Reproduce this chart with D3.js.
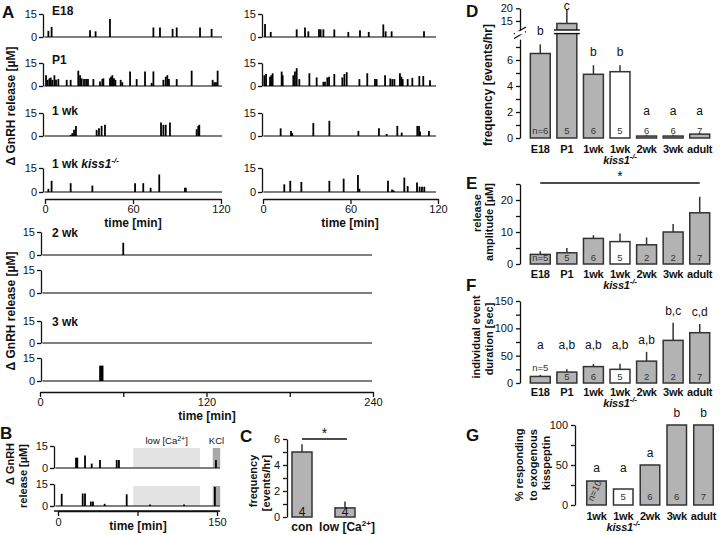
<!DOCTYPE html>
<html><head><meta charset="utf-8">
<script src="https://cdn.jsdelivr.net/npm/d3@7"></script>
<style>
body{margin:0;background:#fff}
svg{display:block}
text{font-family:"Liberation Sans",Arial,sans-serif;fill:#111}
.tk text{font-size:11px}
.gl{font-size:11px;font-weight:bold;letter-spacing:-0.2px}
.tl{font-size:12px;font-weight:bold}
.pl{font-size:17px;font-weight:bold}
.yl{font-size:12px;font-weight:bold}
.ys{font-size:11px;font-weight:bold}
.lt{font-size:12px}
.nl{font-size:9.5px;fill:#333}
</style>
</head><body>
<svg id="c" width="720" height="535"></svg>
<script>
// ---------- DATA ----------
// trace events: [time (min), amplitude (µM)]
const e18Left = [[2.3,4],[4.5,6.6],[30.7,4.4],[34.5,3.7],[44.3,11.7],[73.9,6.2],[78.4,6.2],[87,5.3],[89.8,6.2],[105.7,6.2],[113.6,5.3]];
const e18Right = [[1.4,8.4],[5.3,3.3],[23.1,5],[28.8,6.2],[31.1,3.7],[38.4,5],[39.5,5],[41.4,5],[48.9,4.9],[58.5,3.3],[66.5,4.4],[72.5,3.3],[82.5,8.2],[84.1,3.7],[88.2,3.7],[110.4,3.7]];
const p1Left = [[0.7,7],[1.8,4],[3,5],[3.9,5.5],[5,4],[6.4,7],[7.5,4],[9.1,4.5],[14.8,4],[17.5,4],[22.7,10],[23.9,7],[25,5],[26.6,4.5],[28,4.5],[29.3,4.5],[33,4.5],[37.5,3],[39.1,4.5],[39.8,5],[44.3,5],[45,6],[45.9,7],[47,5],[48,4],[51.6,4],[52.7,2.5],[58,9.5],[62.5,4.5],[68.2,9.5],[72.7,2],[73.9,9.5],[80.7,4],[82.3,6],[83.4,7],[84.5,4.5],[89.8,4.5],[100,10],[114.3,4],[115.5,2.5],[116.6,2.5],[117.7,10]];
const p1Right = [[0.9,7],[2.1,7.8],[4.8,6],[5.7,7],[6.6,8.3],[12.8,9.4],[13.5,7],[20.8,7],[21.9,9.4],[23.1,11.6],[24.9,4.5],[31.8,8.3],[36.8,5.6],[41.4,2.7],[42.5,2.7],[44.1,5.6],[45.3,6],[48.9,7.8],[54.4,5.6],[55.8,7.8],[57.4,9],[66.1,4.5],[71.5,8.3],[76.8,4.5],[77.9,4.5],[83.7,7],[87.3,4.9],[88.7,4.5],[90.1,4.5],[93.9,8.3],[94.9,6],[95.8,4.5],[99.2,4.5],[102.4,5.3],[107.2,6.5],[109.9,6.5],[114.5,3.8]];
const wk1Left = [[17.5,0.7],[18.6,1.8],[19.8,4],[21.1,6.6],[35.2,4],[36.8,5],[38.6,6.6],[40.9,7.3],[79.1,8.8],[80.7,7.3],[82.3,7.3],[85.2,8.8],[103.4,4.4],[104.5,6.6],[105.2,7.3]];
const wk1Right = [[12.1,5],[19.2,3.3],[20.1,1.8],[34.5,8.4],[45.5,9.9],[65.4,3.3],[79.5,5],[84.8,1.3],[92.1,6.6],[95.1,2.2],[105.8,6.6],[107,6.6],[107.7,2.9],[113.8,3.3]];
const kissLeft = [[2.3,2],[4.5,7],[17.5,5.5],[32.3,4],[61.4,5.5],[67,5.5],[72,2.6],[77.9,11],[95.4,2.6],[96,2.6]];
const kissRight = [[14.6,4.8],[18.7,7],[26.3,6.3],[45.5,7],[55.3,8.3],[65.1,10.6],[66.1,2],[85.7,7],[88.5,1.5],[89.6,1],[96.9,9],[99.2,3.7],[105.6,6],[107.4,3.3],[109,3.3],[110.6,3.3]];
const wk2a = [[60,8]];
const wk2b = [];
const wk3a = [];
const wk3b = [[43.3,10],[44.2,10],[45.1,10]];
const bCon = [[17,7],[18.2,7],[25.5,8.5],[31.8,3],[39.6,5.5],[55.4,5.5],[57.5,5.5],[149,5.5]];
const bLowCa = [[3.5,8.3],[23.3,8.5],[25.5,8.5],[31,3],[33,3],[44,1.5],[64.8,8],[86.8,1],[118.9,1],[148,13]];
const lowCaWindow = [71, 134];
const kclWindow = [146, 153];

// panel C
const cCats = ["con","low [Ca2+]"];
const cMean = [5, 0.7];
const cErrTop = [5.6, 1.2];
const cN = ["4","4"];

// panels D-F
const groups = ["E18","P1","1wk","1wk kiss1-/-","2wk","3wk","adult"];
const freqMean = [6.5,14,4.9,5.1,0.15,0.15,0.3];
const freqErrTop = [7.2,19.6,5.6,5.6,0.25,0.25,0.4];
const freqLetters = ["b","c","b","b","a","a","a"];
const freqN = ["n=6","5","6","5","6","6","7"];
const ampMean = [3,3.5,8,7,6,10,16];
const ampErrTop = [4,5,9,9.5,8.3,12.5,21];
const ampN = ["n=5","5","6","5","2","2","7"];
const durMean = [12,20,30,25,40,78,92];
const durErrTop = [15,25,35,35,57,110,108];
const durLetters = ["a","a,b","a,b","a,b","a,b","b,c","c,d"];
const durN = ["n=5","5","6","5","2","2","7"];
// panel G
const gGroups = ["1wk","1wk kiss1-/-","2wk","3wk","adult"];
const gPct = [30,20,50,100,100];
const gLetters = ["a","a","a","b","b"];
const gN = ["n=10","5","6","6","7"];

// ---------- DRAW ----------
const svg = d3.select("#c");
const BAR = "#b3b3b3", EDGE = "#333";

function text(x, y, s, cls, anchor="start", rot=0) {
  const t = svg.append("text").attr("class", cls).attr("text-anchor", anchor);
  if (rot) t.attr("transform", `translate(${x},${y}) rotate(${rot})`);
  else t.attr("x", x).attr("y", y);
  return t.text(s);
}
function styleAxis(g) {
  g.attr("class","tk");
  g.selectAll("path,line").attr("stroke","#111").attr("stroke-width",1.3);
  g.selectAll("text").attr("fill","#222");
}
function trace(events, xs, yBase, yTop, bx, xEnd) {
  const y = d3.scaleLinear().domain([0,15]).range([yBase, yTop]);
  svg.append("line").attr("x1", bx + 1.5).attr("x2", xEnd ?? xs.range()[1])
    .attr("y1", yBase).attr("y2", yBase).attr("stroke","#555").attr("stroke-width",1.3);
  svg.append("g").selectAll("line").data(events).join("line")
    .attr("x1", d => xs(d[0])).attr("x2", d => xs(d[0]))
    .attr("y1", yBase).attr("y2", d => y(d[1]))
    .attr("stroke","#000").attr("stroke-width",1.8);
  svg.append("g").attr("transform", `translate(${bx},0)`)
    .call(d3.axisLeft(y).tickValues([0,15]).tickSize(4).tickSizeOuter(0).tickPadding(2))
    .call(styleAxis);
  return y;
}
function kissLabel(x, y, cls, anchor, prefix) {
  const t = svg.append("text").attr("class", cls).attr("x", x).attr("y", y).attr("text-anchor", anchor);
  if (prefix) t.append("tspan").text(prefix);
  t.append("tspan").style("font-style","italic").text("kiss1");
  t.append("tspan").attr("dy",-5).style("font-size","8px").style("font-style","italic").text("-/-");
  return t;
}
function groupLabels(xs, cats, yb) {
  cats.forEach(c => {
    const cx = xs(c) + xs.bandwidth()/2;
    if (c.includes("kiss")) {
      text(cx, yb, "1wk", "gl", "middle");
      kissLabel(cx, yb + 11, "gl", "middle");
    } else text(cx, yb, c, "gl", "middle");
  });
}

// ===== Panel A =====
text(2, 18, "A", "pl");
const xL = d3.scaleLinear().domain([0,120]).range([45,221]);
const xR = d3.scaleLinear().domain([0,120]).range([263,438]);
const topRows = [[37,14],[86,63],[136,113],[192,168]];
const leftSets = [e18Left, p1Left, wk1Left, kissLeft];
const rightSets = [e18Right, p1Right, wk1Right, kissRight];
topRows.forEach((r,i) => {
  trace(leftSets[i], xL, r[0], r[1], 43, 222);
  trace(rightSets[i], xR, r[0], r[1], 262, 436);
});
text(52, 15, "E18", "tl");
text(52, 64, "P1", "tl");
text(52, 115, "1 wk", "tl");
kissLabel(52, 168, "tl", "start", "1 wk ");
[[xL,133],[xR,350]].forEach(([xs,cx]) => {
  svg.append("g").attr("transform","translate(0,199)")
    .call(d3.axisBottom(xs).tickValues([0,60,120]).tickSize(5).tickSizeOuter(0).tickPadding(1))
    .call(styleAxis);
  text(cx, 227, "time [min]", "tl", "middle");
});
text(15, 106, "Δ GnRH release [µM]", "yl", "middle", -90);

const xB2 = d3.scaleLinear().domain([0,240]).range([40,373]);
const botRows = [[255,232],[293,270],[343,321],[381,358]];
[wk2a, wk2b, wk3a, wk3b].forEach((s,i) => trace(s, xB2, botRows[i][0], botRows[i][1], 41, 372));
text(52, 237, "2 wk", "tl");
text(52, 326, "3 wk", "tl");
svg.append("g").attr("transform","translate(0,392)")
  .call(d3.axisBottom(xB2).tickValues([0,60,120,180,240]).tickSize(5).tickSizeOuter(0).tickPadding(1)
    .tickFormat(d => d % 120 === 0 ? d : ""))
  .call(styleAxis);
text(207, 420, "time [min]", "tl", "middle");
text(15, 311, "Δ GnRH release [µM]", "yl", "middle", -90);

// ===== Panel B =====
text(0, 439, "B", "pl");
const xsB = d3.scaleLinear().domain([0,150]).range([58,217]);
const bRows = [[468,446],[506,484]];
bRows.forEach(r => {
  svg.append("rect").attr("x", xsB(lowCaWindow[0])).attr("width", xsB(lowCaWindow[1]) - xsB(lowCaWindow[0]))
    .attr("y", r[1] + 2).attr("height", r[0] - r[1] - 2).attr("fill","#e3e3e3");
  svg.append("rect").attr("x", xsB(kclWindow[0])).attr("width", xsB(kclWindow[1]) - xsB(kclWindow[0]))
    .attr("y", r[1] + 2).attr("height", r[0] - r[1] - 2).attr("fill","#a9a9a9");
});
trace(bCon, xsB, bRows[0][0], bRows[0][1], 54, 220);
trace(bLowCa, xsB, bRows[1][0], bRows[1][1], 54, 220);
svg.append("g").attr("transform","translate(0,511)")
  .call(d3.axisBottom(xsB).tickValues([0,75,150]).tickSize(5).tickSizeOuter(0).tickPadding(2)
    .tickFormat(d => d === 75 ? "" : d))
  .call(styleAxis);
svg.append("line").attr("x1", xsB(0)-4).attr("x2", xsB(153)).attr("y1",511).attr("y2",511).attr("stroke","#111").attr("stroke-width",1.3);
text(138, 530, "time [min]", "tl", "middle");
{
  const t = svg.append("text").attr("x", (xsB(lowCaWindow[0]) + xsB(lowCaWindow[1]))/2).attr("y", 444)
    .attr("text-anchor","middle").style("font-size","9.5px");
  t.append("tspan").text("low [Ca");
  t.append("tspan").attr("dy",-3).style("font-size","7px").text("2+");
  t.append("tspan").attr("dy",3).text("]");
  text((xsB(kclWindow[0]) + xsB(kclWindow[1]))/2, 444, "KCl", "", "middle").style("font-size","9.5px");
}
text(14, 464, "Δ GnRH", "ys", "middle", -90);
text(27, 476, "release [µM]", "ys", "middle", -90);

// ===== Panel C =====
text(240, 442, "C", "pl");
const yC = d3.scaleLinear().domain([0,6]).range([517,439]);
const xC = d3.scalePoint().domain(cCats).range([302, 345]);
svg.append("g").attr("transform","translate(287,0)")
  .call(d3.axisLeft(yC).tickValues([0,1,2,3,4,5,6]).tickSize(4).tickSizeOuter(0).tickPadding(3)
    .tickFormat(d => d % 2 === 0 ? d : ""))
  .call(styleAxis);
const bwC = 20;
cCats.forEach((c,i) => {
  const cx = xC(c);
  svg.append("line").attr("x1",cx).attr("x2",cx).attr("y1",yC(cMean[i])).attr("y2",yC(cErrTop[i])).attr("stroke",EDGE).attr("stroke-width",1.5);
  svg.append("rect").attr("x",cx - bwC/2).attr("width",bwC).attr("y",yC(cMean[i])).attr("height",yC(0)-yC(cMean[i]))
    .attr("fill",BAR).attr("stroke",EDGE).attr("stroke-width",1.5);
  svg.append("text").attr("x",cx).attr("y",516).attr("text-anchor","middle").style("font-size","12px").attr("fill","#333").text(cN[i]);
});
{
  const c0 = xC(cCats[0]), c1 = xC(cCats[1]);
  text(c0, 531, "con", "tl", "middle");
  const t = svg.append("text").attr("class","tl").attr("x", c1+2).attr("y",531).attr("text-anchor","middle");
  t.append("tspan").text("low [Ca");
  t.append("tspan").attr("dy",-5).style("font-size","8px").text("2+");
  t.append("tspan").attr("dy",5).text("]");
  svg.append("line").attr("x1",c0).attr("x2",c1+2).attr("y1",439).attr("y2",439).attr("stroke","#111").attr("stroke-width",1.3);
  text((c0+c1)/2 + 1, 438, "*", "", "middle").style("font-size","14px");
}
text(257, 481, "frequency", "ys", "middle", -90);
text(270, 483, "[events/hr]", "ys", "middle", -90);

// ===== Bar chart helper (D, E, F) =====
const xG = d3.scaleBand().domain(groups).range([527,713]).paddingInner(0.25).paddingOuter(0.125);
function bars(y, means, errTop) {
  const bw = xG.bandwidth();
  groups.forEach((g,i) => {
    const cx = xG(g) + bw/2;
    svg.append("line").attr("x1",cx).attr("x2",cx).attr("y1",y(means[i])).attr("y2",y(errTop[i])).attr("stroke",EDGE).attr("stroke-width",1.5);
    svg.append("rect").attr("x",xG(g)).attr("width",bw).attr("y",y(means[i])).attr("height",Math.max(1.5, y(0)-y(means[i])))
      .attr("fill", g.includes("kiss") ? "#fff" : BAR).attr("stroke",EDGE).attr("stroke-width",1.5);
  });
}
function nLabels(labels, ys) {
  groups.forEach((g,i) => {
    svg.append("text").attr("class","nl").attr("x", xG(g) + xG.bandwidth()/2).attr("y", ys[i]).attr("text-anchor","middle").text(labels[i]);
  });
}

// ===== Panel D =====
text(466, 17, "D", "pl");
const yLow = d3.scaleLinear().domain([0,7.6]).range([138,39.2]);
const yUp = d3.scaleLinear().domain([11.5,20]).range([29.8,8.3]);
const yD = v => v <= 7.6 ? yLow(v) : yUp(v);
svg.append("g").attr("transform","translate(520,0)")
  .call(d3.axisLeft(yLow).tickValues([0,1,2,3,4,5,6,7]).tickSize(4).tickSizeOuter(0).tickPadding(3).tickFormat(d => d % 2 === 0 ? d : ""))
  .call(styleAxis);
svg.append("g").attr("transform","translate(520,0)")
  .call(d3.axisLeft(yUp).tickValues([15,20]).tickSize(4).tickSizeOuter(0).tickPadding(3))
  .call(styleAxis);
[[0,0],[0,4.5]].forEach(([dx,dy]) => {
  svg.append("line").attr("x1",514+dx).attr("x2",526+dx).attr("y1",34+dy).attr("y2",27+dy).attr("stroke","#111").attr("stroke-width",1.3);
});
svg.append("rect").attr("x",515).attr("width",10).attr("y",31.2).attr("height",3.2).attr("fill","#fff");
bars(yD, freqMean, freqErrTop);
{ // break across P1 bar
  const x0 = xG("P1");
  svg.append("rect").attr("x",x0-3).attr("width",xG.bandwidth()+6).attr("y",30).attr("height",3.6).attr("fill","#fff");
  [30,33.6].forEach(yy => svg.append("line").attr("x1",x0-3).attr("x2",x0+xG.bandwidth()+3).attr("y1",yy).attr("y2",yy).attr("stroke","#111").attr("stroke-width",1.4));
}
groups.forEach((g,i) => {
  const yb = Math.max(9.5, Math.min(yD(freqErrTop[i]) - 9, 115));
  text(xG(g) + xG.bandwidth()/2, yb, freqLetters[i], "lt", "middle");
});
nLabels(freqN, groups.map(() => 134));
groupLabels(xG, groups, 153);
text(492, 85, "frequency [events/hr]", "yl", "middle", -90);

// ===== Panel E =====
text(466, 189, "E", "pl");
const yE = d3.scaleLinear().domain([0,25]).range([264,184]);
svg.append("g").attr("transform","translate(520,0)")
  .call(d3.axisLeft(yE).tickValues([0,5,10,15,20,25]).tickSize(4).tickSizeOuter(0).tickPadding(3).tickFormat(d => d % 10 === 0 ? d : ""))
  .call(styleAxis);
bars(yE, ampMean, ampErrTop);
nLabels(ampN, groups.map(() => 261));
groupLabels(xG, groups, 278);
{
  const a = xG("E18") + xG.bandwidth()/2, b = xG("adult") + xG.bandwidth()/2;
  svg.append("line").attr("x1",a).attr("x2",b).attr("y1",183).attr("y2",183).attr("stroke","#111").attr("stroke-width",1.3);
  text((a+b)/2, 181, "*", "", "middle").style("font-size","14px");
}
text(481, 213, "release", "ys", "middle", -90);
text(493, 222, "amplitude [µM]", "ys", "middle", -90);

// ===== Panel F =====
text(466, 291, "F", "pl");
const yF = d3.scaleLinear().domain([0,150]).range([383,301]);
svg.append("g").attr("transform","translate(520,0)")
  .call(d3.axisLeft(yF).tickValues([0,25,50,75,100,125,150]).tickSize(4).tickSizeOuter(0).tickPadding(3).tickFormat(d => d % 50 === 0 ? d : ""))
  .call(styleAxis);
bars(yF, durMean, durErrTop);
groups.forEach((g,i) => {
  const yb = Math.min(yF(durErrTop[i]) - 8, 349);
  text(xG(g) + xG.bandwidth()/2, yb, durLetters[i], "lt", "middle");
});
nLabels(durN, groups.map((g,i) => i === 0 ? yF(durErrTop[0]) - 4 : 380));
groupLabels(xG, groups, 396);
text(480, 337, "individual event", "ys", "middle", -90);
text(493, 339, "duration [sec]", "ys", "middle", -90);

// ===== Panel G =====
text(466, 441, "G", "pl");
const yGs = d3.scaleLinear().domain([0,100]).range([505,425]);
const xGG = d3.scaleBand().domain(gGroups).range([583,717]).paddingInner(0.27).paddingOuter(0.14);
svg.append("g").attr("transform","translate(575,0)")
  .call(d3.axisLeft(yGs).tickValues([0,25,50,75,100]).tickSize(4).tickSizeOuter(0).tickPadding(3).tickFormat(d => d % 50 === 0 ? d : ""))
  .call(styleAxis);
gGroups.forEach((g,i) => {
  const bw = xGG.bandwidth(), cx = xGG(g) + bw/2;
  svg.append("rect").attr("x",xGG(g)).attr("width",bw).attr("y",yGs(gPct[i])).attr("height",yGs(0)-yGs(gPct[i]))
    .attr("fill", g.includes("kiss") ? "#fff" : BAR).attr("stroke",EDGE).attr("stroke-width",1.5);
  text(cx, Math.min(yGs(gPct[i]) - 8, 472), gLetters[i], "lt", "middle");
  if (i === 0) text(cx + 1, 492, gN[i], "nl", "middle", -65);
  else text(cx, 500, gN[i], "nl", "middle");
});
groupLabels(xGG, gGroups, 520);
text(523, 465, "% responding", "ys", "middle", -90);
text(537, 465, "to exogenous", "ys", "middle", -90);
text(550, 463, "kisspeptin", "ys", "middle", -90);
</script>
</body></html>
